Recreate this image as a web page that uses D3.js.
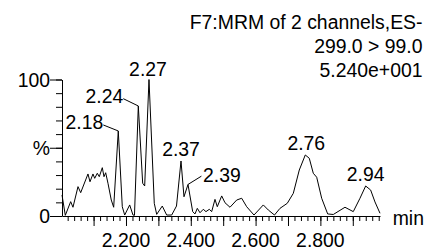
<!DOCTYPE html>
<html>
<head>
<meta charset="utf-8">
<script src="https://cdn.jsdelivr.net/npm/d3@7"></script>
<style>
  html, body { margin: 0; padding: 0; background: #fff; }
  svg { display: block; }
  text { font-family: "Liberation Sans", Arial, Helvetica, sans-serif; font-size: 19.4px; fill: #000; }
</style>
</head>
<body>
<script>
// ---- data ----
const headerLines = ["F7:MRM of 2 channels,ES-", "299.0 > 99.0", "5.240e+001"];
const times = [2.0025, 2.0127, 2.0293, 2.0364, 2.0519, 2.0602, 2.0827, 2.0889, 2.0981, 2.1034,
  2.1114, 2.1176, 2.1269, 2.1321, 2.1373, 2.1444, 2.1546, 2.1620, 2.1762, 2.1886,
  2.1960, 2.2114, 2.2216, 2.2262, 2.2380, 2.2515, 2.2577, 2.2710, 2.2873, 2.2948,
  2.3120, 2.3256, 2.3410, 2.3559, 2.3698, 2.3790, 2.3914, 2.4059, 2.4130, 2.4201,
  2.4284, 2.4386, 2.4469, 2.4571, 2.4645, 2.4747, 2.4818, 2.4954, 2.5056, 2.5210,
  2.5417, 2.5571, 2.5725, 2.5951, 2.6238, 2.6392, 2.6583, 2.6753, 2.6978, 2.7164,
  2.7349, 2.7534, 2.7657, 2.7781, 2.7886, 2.8040, 2.8225, 2.8398, 2.8759, 2.9015,
  2.9222, 2.9398, 2.9552, 2.9685, 2.9840];
const intensity = [15.4, 0.5, 10.5, 6.4, 21.5, 17.1, 30.8, 25.1, 30.8, 27.6,
  31.3, 28.8, 35.4, 28.8, 31.7, 24.0, 11.7, 6.4, 62.3, 6.8,
  0.7, 8.1, 0.7, 0.5, 80.6, 24.0, 22.0, 100, 9.3, 1.2,
  7.3, 0.7, 0.7, 7.3, 40.3, 14.1, 23.1, 3.2, 1.5, 5.6,
  2.4, 4.9, 3.2, 4.9, 3.2, 12.2, 6.8, 14.7, 9.7, 6.4,
  11.7, 13.0, 6.8, 0.7, 8.1, 4.4, 0.7, 5.6, 9.3, 16.6,
  33.7, 44.7, 42.3, 31.3, 28.4, 13.0, 1.5, 1.1, 6.4, 3.2,
  13.0, 22.0, 19.0, 10.3, 2.0];
const peakLabels = ["2.18", "2.24", "2.27", "2.37", "2.39", "2.76", "2.94"];
const peakTimes = [2.1762, 2.2380, 2.2710, 2.3698, 2.3914, 2.7534, 2.9398];
const peakValues = [62.3, 80.6, 100, 40.3, 23.1, 44.7, 22.0];
const xTickLabels = [2.2, 2.4, 2.6, 2.8];
const yTickLabels = [{v: 0, t: "0"}, {v: 50, t: "%"}, {v: 100, t: "100"}];
const xUnit = "min";
const xDomain = [2.0025, 2.984];

// ---- layout ----
const W = 434, H = 249;
const svg = d3.select("body").append("svg").attr("width", W).attr("height", H);

const x = d3.scaleLinear().domain(xDomain).range([62, 380]);
const y = d3.scaleLinear().domain([0, 100]).range([216, 79.5]);

// header
svg.selectAll("text.hdr").data(headerLines).enter().append("text")
  .attr("class", "hdr")
  .attr("x", 422.5).attr("y", (d, i) => 28.5 + i * 24)
  .attr("text-anchor", "end").text(d => d);

// x axis: minor ticks every 0.02, major every 0.1
const minorX = d3.range(101, 150).map(i => i * 0.02).filter(v => v > xDomain[0] && v <= xDomain[1]);
const majorX = d3.range(21, 30).map(i => i / 10);
const xAxisMinor = d3.axisBottom(x).tickValues(minorX).tickSize(5).tickFormat("").tickSizeOuter(0);
const xAxisMajor = d3.axisBottom(x).tickValues(majorX).tickSize(10).tickFormat("").tickSizeOuter(0);
const gx1 = svg.append("g").attr("transform", `translate(0,${y(0)})`).call(xAxisMinor);
const gx2 = svg.append("g").attr("transform", `translate(0,${y(0)})`).call(xAxisMajor);
gx2.select(".domain").remove();
[gx1, gx2].forEach(g => {
  g.selectAll("line").attr("stroke", "#000");
  g.select(".domain").attr("stroke", "#000");
});
svg.selectAll("text.xl").data(xTickLabels).enter().append("text")
  .attr("class", "xl")
  .attr("x", d => x(d)).attr("y", 246.5)
  .attr("text-anchor", "middle").text(d => d3.format(".3f")(d));
svg.append("text").attr("x", 392.7).attr("y", 225).text(xUnit);

// y axis
const yAxisMinor = d3.axisLeft(y).tickValues(d3.range(0, 101, 10)).tickSize(6).tickFormat("").tickSizeOuter(0);
const yAxisMajor = d3.axisLeft(y).tickValues(yTickLabels.map(d => d.v)).tickSize(12).tickFormat("").tickSizeOuter(0);
const gy1 = svg.append("g").attr("transform", `translate(${x(xDomain[0])},0)`).call(yAxisMinor);
const gy2 = svg.append("g").attr("transform", `translate(${x(xDomain[0])},0)`).call(yAxisMajor);
gy2.select(".domain").remove();
[gy1, gy2].forEach(g => {
  g.selectAll("line").attr("stroke", "#000");
  g.select(".domain").attr("stroke", "#000");
});
svg.selectAll("text.yl").data(yTickLabels).enter().append("text")
  .attr("class", "yl")
  .attr("x", 50).attr("y", d => y(d.v) + 7)
  .attr("text-anchor", "end").text(d => d.t);

// trace
const line = d3.line().x((d, i) => x(times[i])).y(d => y(d));
svg.append("path").datum(intensity)
  .attr("d", line).attr("fill", "none").attr("stroke", "#000").attr("stroke-width", 1);

// peak labels: placement offsets (pixels relative to apex)
const placement = {
  "2.18": {anchor: "end", dx: -15, dy: -1.7, lead: [-15, -6]},
  "2.24": {anchor: "end", dx: -15, dy: -3.3, lead: [-15, -7.3]},
  "2.27": {anchor: "middle", dx: -1, dy: -4},
  "2.37": {anchor: "middle", dx: 0, dy: -4.5},
  "2.39": {anchor: "start", dx: 15, dy: -2.8, lead: [13.4, -8.3]},
  "2.76": {anchor: "middle", dx: 1, dy: -5},
  "2.94": {anchor: "middle", dx: 0, dy: -4.5}
};
peakLabels.forEach((lab, i) => {
  const px = x(peakTimes[i]), py = y(peakValues[i]);
  const p = placement[lab];
  svg.append("text").attr("x", px + p.dx).attr("y", py + p.dy)
    .attr("text-anchor", p.anchor).text(lab);
  if (p.lead) {
    svg.append("line")
      .attr("x1", px + p.lead[0]).attr("y1", py + p.lead[1])
      .attr("x2", px).attr("y2", py)
      .attr("stroke", "#000").attr("stroke-width", 1);
  }
});
</script>
</body>
</html>
